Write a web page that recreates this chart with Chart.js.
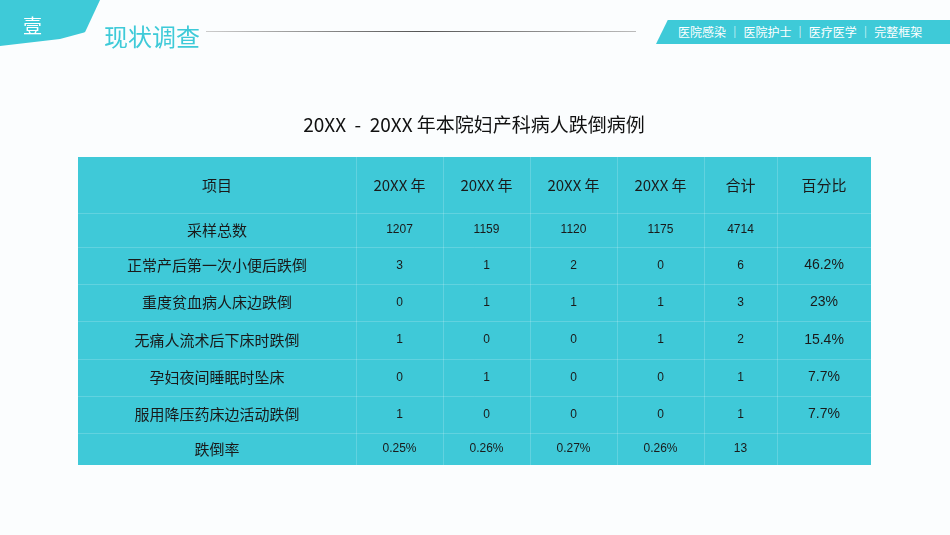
<!DOCTYPE html>
<html><head><meta charset="utf-8">
<script src="https://cdn.jsdelivr.net/npm/chart.js@4"></script>
<style>
body{margin:0;width:950px;height:535px;overflow:hidden;background:#fbfdfe;font-family:"Noto Sans CJK SC",sans-serif;position:relative}
#c{position:absolute;left:0;top:0}
.tab{position:absolute;left:0;top:0;width:100px;height:46px;background:#3ecad8;border-bottom-right-radius:60px 40px;clip-path:polygon(0 0,100% 0,85% 70%,60% 85%,0 100%)}
.tabt{position:absolute;left:23px;top:11px;color:#fff;font-size:19px}
.ttl{position:absolute;left:104px;top:18px;color:#3ecad8;font-size:24px}
.ln{position:absolute;left:206px;top:31px;width:430px;height:1px;background:linear-gradient(90deg,#ccc,#555 50%,#bbb)}
.bn{position:absolute;left:656px;top:20px;width:294px;height:24px;background:#3ecad8;clip-path:polygon(4% 0,100% 0,100% 100%,0 100%);color:#fff;font-size:12px;line-height:24px;padding-left:22px;box-sizing:border-box}
.h{position:absolute;left:0;top:105px;width:950px;text-align:center;font-size:19px;color:#111;padding-left:0}
</style></head><body>
<canvas id="c" width="950" height="535"></canvas>
<div class="tab"></div><div class="tabt">壹</div>
<div class="ttl">现状调查</div><div class="ln"></div>
<div class="bn">医院感染 ｜ 医院护士 ｜ 医疗医学 ｜ 完整框架</div>
<div class="h" style="left:-1px;top:110px">20XX &nbsp;- &nbsp;20XX 年本院妇产科病人跌倒病例</div>
<script>
const headers=["项目","20XX 年","20XX 年","20XX 年","20XX 年","合计","百分比"];
const rowLabels=["采样总数","正常产后第一次小便后跌倒","重度贫血病人床边跌倒","无痛人流术后下床时跌倒","孕妇夜间睡眠时坠床","服用降压药床边活动跌倒","跌倒率"];
const year1=["1207","3","0","1","0","1","0.25%"];
const year2=["1159","1","1","0","1","0","0.26%"];
const year3=["1120","2","1","0","0","0","0.27%"];
const year4=["1175","0","1","1","0","0","0.26%"];
const totals=["4714","6","3","2","1","1","13"];
const percents=["","46.2%","23%","15.4%","7.7%","7.7%",""];
// layout (not data): column edges & row edges in table units
const colEdges=[0,278,365,452,539,626,699,793];
const rowEdges=[0,56,90,127,164,202,239,276,308];
const cols=[rowLabels,year1,year2,year3,year4,totals,percents];
const tablePlugin={id:'tbl',beforeDatasetsDraw(ch){
 const c=ch.ctx,x=ch.scales.x,y=ch.scales.y;
 c.save();
 c.fillStyle='#3fc9d8';
 c.fillRect(x.getPixelForValue(0),y.getPixelForValue(0),x.getPixelForValue(793)-x.getPixelForValue(0),y.getPixelForValue(308)-y.getPixelForValue(0));
 c.strokeStyle='rgba(255,255,255,0.18)';c.lineWidth=1;
 for(let i=1;i<colEdges.length-1;i++){const px=Math.round(x.getPixelForValue(colEdges[i]))+.5;c.beginPath();c.moveTo(px,y.getPixelForValue(0));c.lineTo(px,y.getPixelForValue(308));c.stroke();}
 for(let j=1;j<rowEdges.length-1;j++){const py=Math.round(y.getPixelForValue(rowEdges[j]))+.5;c.beginPath();c.moveTo(x.getPixelForValue(0),py);c.lineTo(x.getPixelForValue(793),py);c.stroke();}
 c.textAlign='center';c.textBaseline='middle';c.fillStyle='#1a1a1a';
 for(let i=0;i<headers.length;i++){
  const cx=(x.getPixelForValue(colEdges[i])+x.getPixelForValue(colEdges[i+1]))/2;
  c.font='15px "Noto Sans CJK SC"';
  c.fillText(headers[i],cx,(y.getPixelForValue(rowEdges[0])+y.getPixelForValue(rowEdges[1]))/2);
  for(let r=0;r<7;r++){
   const cy=(y.getPixelForValue(rowEdges[r+1])+y.getPixelForValue(rowEdges[r+2]))/2;
   c.font=(i==0?'15px "Noto Sans CJK SC"':(i==6?'14px Arial,"Liberation Sans"':'12px Arial,"Liberation Sans"'));
   c.fillText(cols[i][r],cx,cy);
  }
 }
 c.restore();
}};
new Chart(document.getElementById('c'),{type:'scatter',data:{datasets:[{data:[]}]},
 options:{responsive:false,animation:false,events:[],
  layout:{padding:{left:78,right:79,top:157,bottom:70}},
  plugins:{legend:{display:false},tooltip:{enabled:false}},
  scales:{x:{type:'linear',min:0,max:793,display:false},y:{type:'linear',min:0,max:308,reverse:true,display:false}}},
 plugins:[tablePlugin]});
</script></body></html>
